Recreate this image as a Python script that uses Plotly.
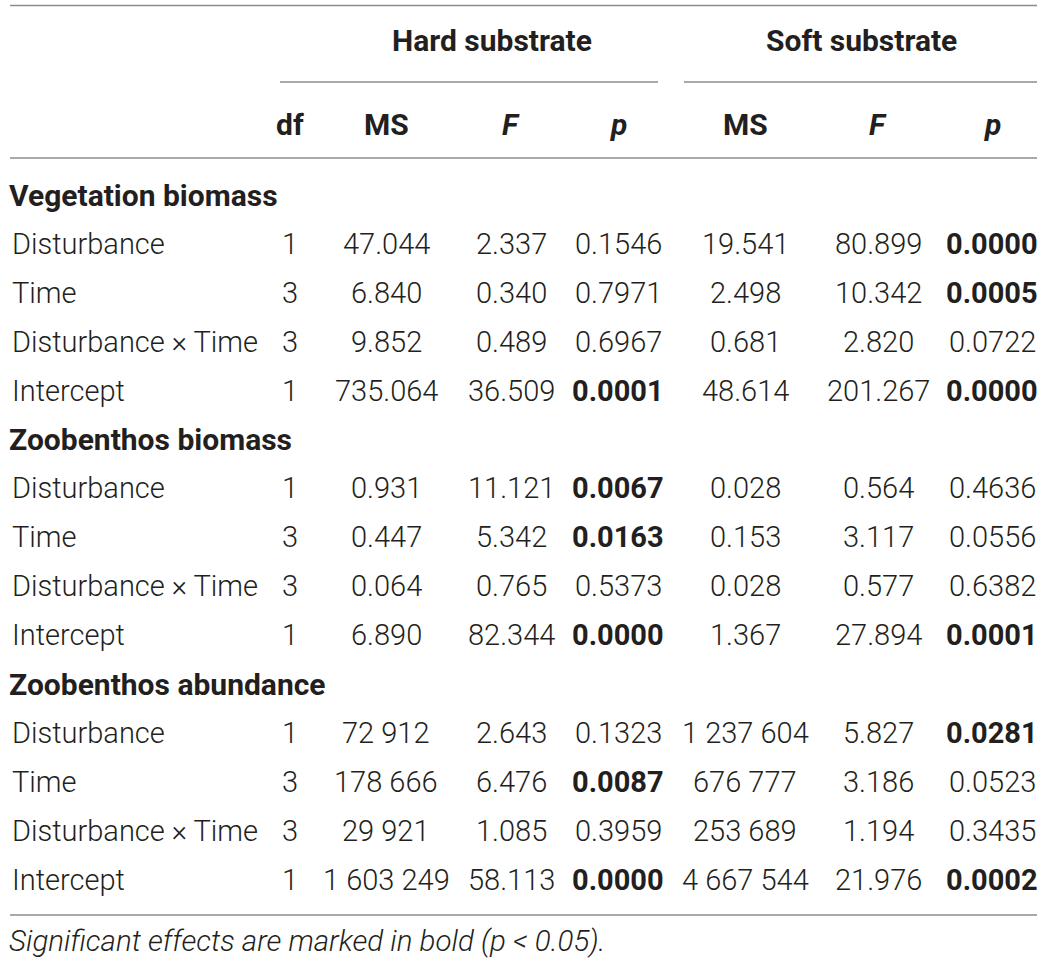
import plotly.graph_objects as go

# ---------------- data ----------------
group_headers = ["Hard substrate", "Soft substrate"]
col_headers = ["df", "MS", "<i>F</i>", "<i>p</i>", "MS", "<i>F</i>", "<i>p</i>"]
sections = ["Vegetation biomass", "Zoobenthos biomass", "Zoobenthos abundance"]
effects = ["Disturbance", "Time", "Disturbance × Time", "Intercept"]
df_vals = [1, 3, 3, 1]

veg_hard_ms = [47.044, 6.840, 9.852, 735.064]
veg_hard_f = [2.337, 0.340, 0.489, 36.509]
veg_hard_p = [0.1546, 0.7971, 0.6967, 0.0001]
veg_soft_ms = [19.541, 2.498, 0.681, 48.614]
veg_soft_f = [80.899, 10.342, 2.820, 201.267]
veg_soft_p = [0.0000, 0.0005, 0.0722, 0.0000]

zb_hard_ms = [0.931, 0.447, 0.064, 6.890]
zb_hard_f = [11.121, 5.342, 0.765, 82.344]
zb_hard_p = [0.0067, 0.0163, 0.5373, 0.0000]
zb_soft_ms = [0.028, 0.153, 0.028, 1.367]
zb_soft_f = [0.564, 3.117, 0.577, 27.894]
zb_soft_p = [0.4636, 0.0556, 0.6382, 0.0001]

za_hard_ms = [72912, 178666, 29921, 1603249]
za_hard_f = [2.643, 6.476, 1.085, 58.113]
za_hard_p = [0.1323, 0.0087, 0.3959, 0.0000]
za_soft_ms = [1237604, 676777, 253689, 4667544]
za_soft_f = [5.827, 3.186, 1.194, 21.976]
za_soft_p = [0.0281, 0.0523, 0.3435, 0.0002]

footnote = "Significant effects are marked in bold (p < 0.05)."
alpha = 0.05

section_data = [
    (veg_hard_ms, veg_hard_f, veg_hard_p, veg_soft_ms, veg_soft_f, veg_soft_p),
    (zb_hard_ms, zb_hard_f, zb_hard_p, zb_soft_ms, zb_soft_f, zb_soft_p),
    (za_hard_ms, za_hard_f, za_hard_p, za_soft_ms, za_soft_f, za_soft_p),
]

# ---------------- layout constants ----------------
W, H = 1044, 964
col_x = [290, 386, 511, 618, 745, 878, 992]
group_x = [492, 861]
label_x = 10
section_x = 7
y_group = 40
y_colhead = 124
y0_body = 195
row_step = 48.9
y_foot = 941
text_color = "#231f20"
line_color = "#8c8c8c"
fs_body = 29
fs_head = 30
fs_foot = 29.5
FONT = "Roboto"


def fmt_ms(v):
    if isinstance(v, int):
        return f"{v:,}".replace(",", " ")
    return f"{v:.3f}"


def fmt_p(v):
    s = f"{v:.4f}"
    return f"<b>{s}</b>" if v < alpha else s


fig = go.Figure()
ann = []


def add(text, x, y, xanchor="center", bold=False, size=fs_body, italic=False):
    t = text
    if bold:
        t = f"<b>{t}</b>"
    if italic:
        t = f"<i>{t}</i>"
    ann.append(dict(x=x, y=y, xref="x", yref="y", text=t, showarrow=False,
                    xanchor=xanchor, yanchor="middle",
                    font=dict(family=FONT, size=size, color=text_color, weight=300)))


for gx, g in zip(group_x, group_headers):
    add(g, gx, y_group, bold=True, size=fs_head)
for cx, c in zip(col_x, col_headers):
    add(c, cx, y_colhead, bold=True, size=fs_head)

row = 0
for sec, data in zip(sections, section_data):
    add(sec, section_x, y0_body + row * row_step, xanchor="left", bold=True, size=fs_head)
    row += 1
    hms, hf, hp, sms, sf, sp = data
    for i, eff in enumerate(effects):
        y = y0_body + row * row_step
        add(eff, label_x, y, xanchor="left")
        vals = [str(df_vals[i]), fmt_ms(hms[i]), f"{hf[i]:.3f}", fmt_p(hp[i]),
                fmt_ms(sms[i]), f"{sf[i]:.3f}", fmt_p(sp[i])]
        for cx, v in zip(col_x, vals):
            add(v, cx, y)
        row += 1

add(footnote, section_x, y_foot, xanchor="left", italic=True, size=fs_foot)

shapes = []
for (x0, x1, y) in [(10, 1037, 5.5), (280, 658, 82), (684, 1037, 82),
                    (10, 1037, 158), (10, 1037, 915)]:
    shapes.append(dict(type="line", xref="x", yref="y", x0=x0, x1=x1, y0=y, y1=y,
                       line=dict(color=line_color, width=1.5)))

fig.update_layout(
    width=W, height=H, margin=dict(l=0, r=0, t=0, b=0),
    paper_bgcolor="white", plot_bgcolor="white",
    xaxis=dict(range=[0, W], visible=False, fixedrange=True),
    yaxis=dict(range=[H, 0], visible=False, fixedrange=True),
    annotations=ann, shapes=shapes, showlegend=False,
)

fig.write_html(
    "out.html",
    config={"displayModeBar": False},
    post_script="document.body.style.margin='0';document.body.style.overflow='hidden';",
)
